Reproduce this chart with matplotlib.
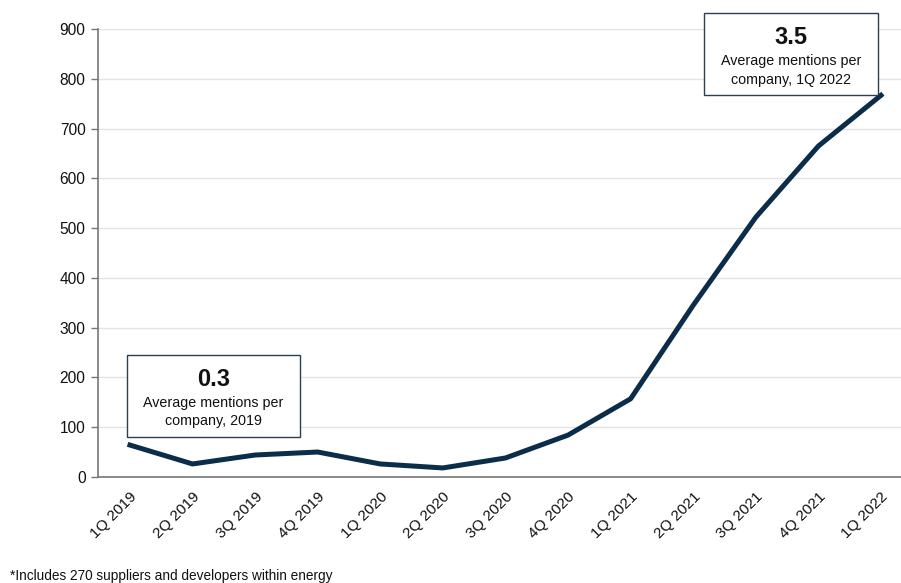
import matplotlib.pyplot as plt
from matplotlib.patches import Rectangle

quarters = ["1Q 2019", "2Q 2019", "3Q 2019", "4Q 2019",
            "1Q 2020", "2Q 2020", "3Q 2020", "4Q 2020",
            "1Q 2021", "2Q 2021", "3Q 2021", "4Q 2021", "1Q 2022"]
mentions = [64, 26, 44, 50, 26, 18, 38, 84, 157, 345, 522, 665, 767]

avg_2019 = "0.3"
avg_1q22 = "3.5"

navy = "#0b2d4a"
plt.rcParams["font.family"] = ["Liberation Sans", "DejaVu Sans"]

fig = plt.figure(figsize=(9.01, 5.83), dpi=100)
ax = fig.add_axes([0.1088, 0.182, 0.8912, 0.768])

x = list(range(len(quarters)))
ax.plot(x, mentions, color=navy, lw=3.6, solid_joinstyle="round", zorder=3)

ax.set_xlim(-0.51, 12.32)
ax.set_ylim(0, 900)
ax.set_yticks(range(0, 901, 100))
ax.set_xticks(x)
ax.set_xticklabels(quarters, rotation=45, ha="right", rotation_mode="anchor")
ax.tick_params(axis="x", length=0, pad=9, labelsize=11, colors="#111111")
ax.tick_params(axis="y", length=5, width=1, color="#777777", pad=4,
               labelsize=11.2, labelcolor="#111111")
ax.grid(axis="y", color="#e3e3e3", lw=1)
ax.set_axisbelow(True)
for side in ("top", "right"):
    ax.spines[side].set_visible(False)
for side in ("left", "bottom"):
    ax.spines[side].set_color("#777777")
    ax.spines[side].set_linewidth(1.2)

# callout boxes
def callout(x0, y0, w, h, big, line1, line2):
    ax.add_patch(Rectangle((x0, y0), w, h, facecolor="white", edgecolor="#2b3f52",
                           lw=1.0, clip_on=False, zorder=4))
    cx = x0 + w / 2
    ax.text(cx, y0 + h * 0.70, big, ha="center", va="center", fontsize=17,
            fontweight="bold", color="#111111", zorder=5, clip_on=False)
    ax.text(cx, y0 + h * 0.42, line1, ha="center", va="center", fontsize=10.3,
            color="#111111", zorder=5, clip_on=False)
    ax.text(cx, y0 + h * 0.19, line2, ha="center", va="center", fontsize=10.3,
            color="#111111", zorder=5, clip_on=False)

callout(-0.05, 80, 2.77, 165, avg_2019, "Average mentions per", "company, 2019")
callout(9.18, 767, 2.77, 165, avg_1q22, "Average mentions per", "company, 1Q 2022")

fig.text(0.011, 0.0, "*Includes 270 suppliers and developers within energy",
         fontsize=9.8, color="#111111", ha="left", va="bottom")

fig.savefig("out.png", dpi=100)
